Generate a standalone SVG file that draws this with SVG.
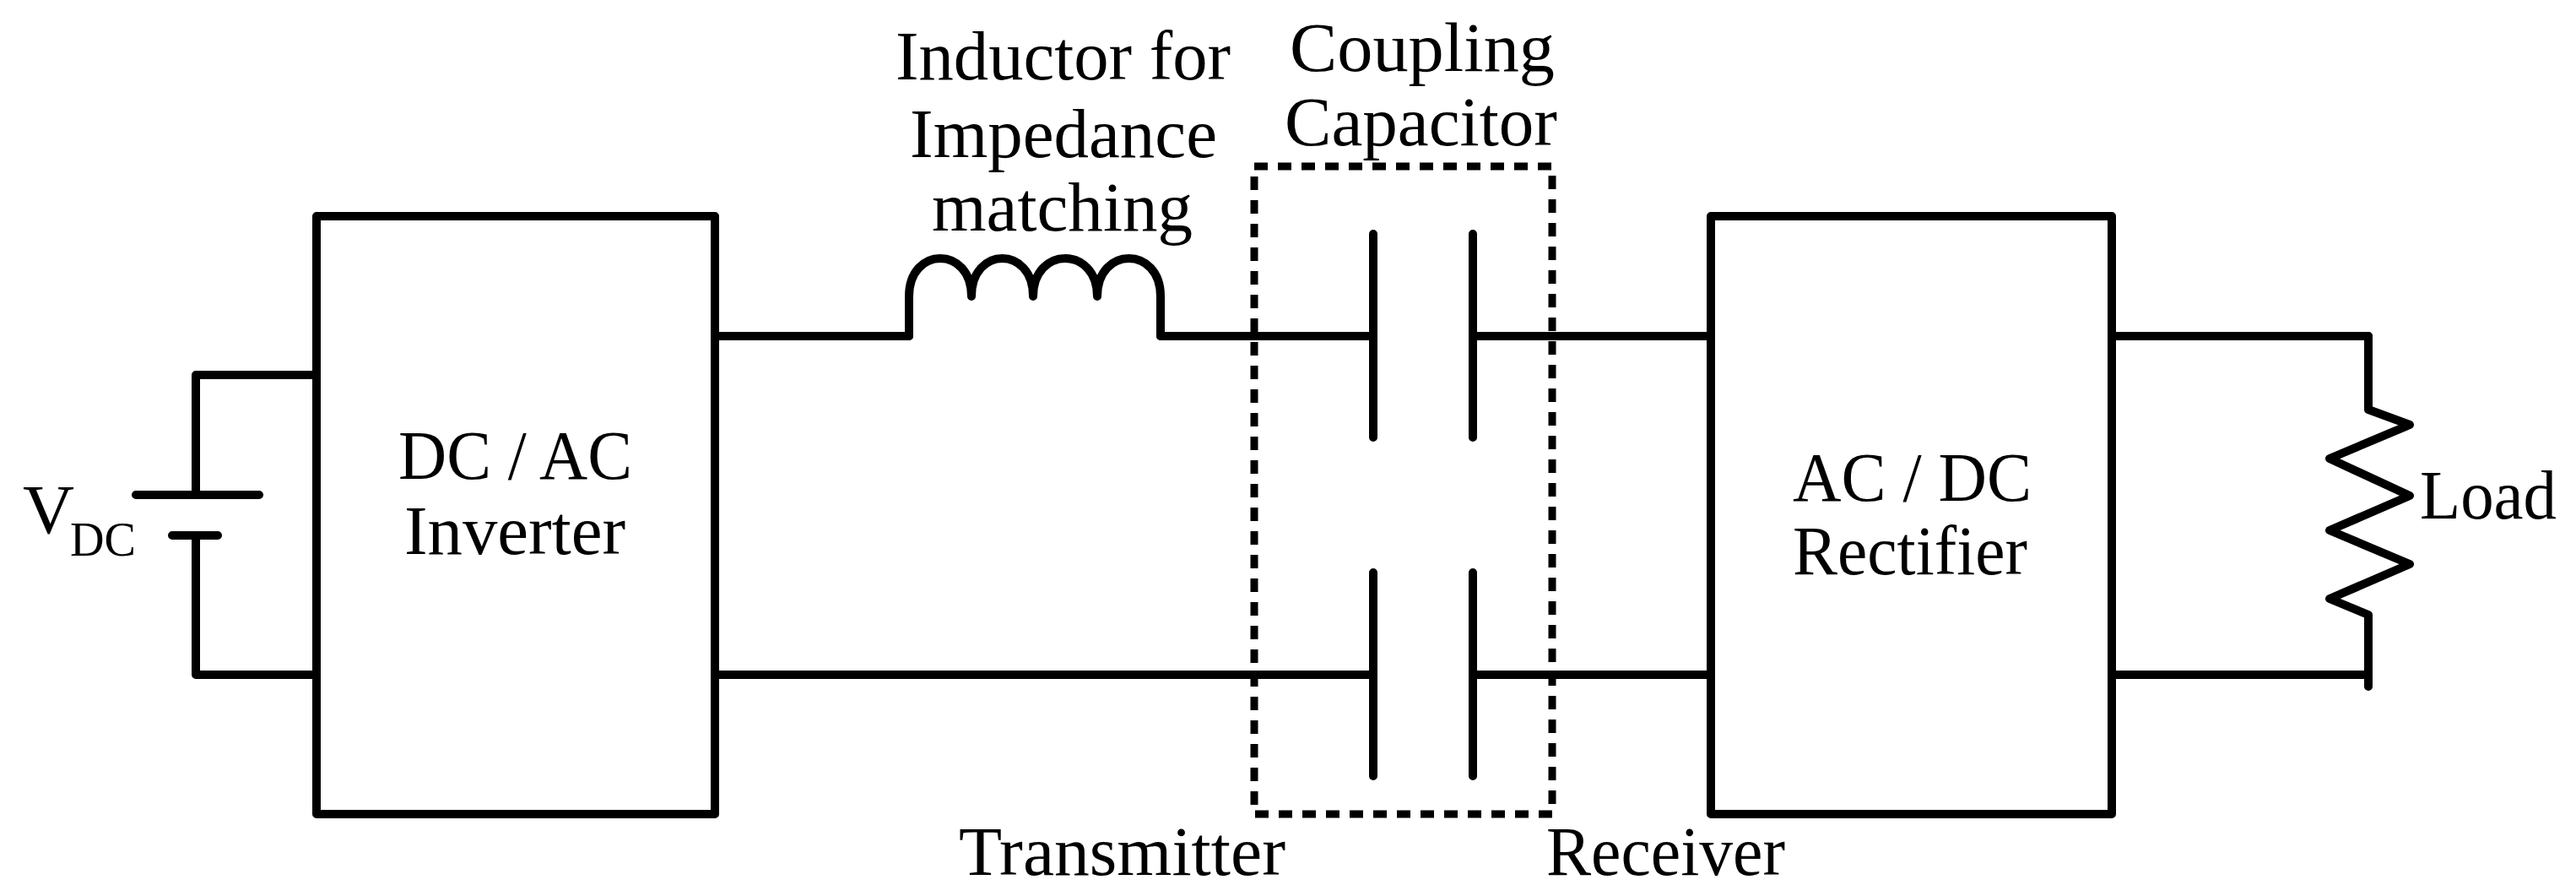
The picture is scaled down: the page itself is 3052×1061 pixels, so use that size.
<svg xmlns="http://www.w3.org/2000/svg" width="3052" height="1061" viewBox="0 0 3052 1061">
<style>
.w{fill:none;stroke:#000;stroke-width:10;stroke-linecap:round;stroke-linejoin:round}
.d{fill:none;stroke:#000;stroke-width:9;stroke-dasharray:16 12}
text{font-family:"Liberation Serif","DejaVu Serif",serif;font-size:82px;fill:#000}
</style>
<rect width="3052" height="1061" fill="#fff"/>
<g id="battery">
<path class="w" d="M375,444 H232 V586 M161,586 H307 M204,634 H258 M232,634 V799 H375"/>
<text x="27" y="631" textLength="61" lengthAdjust="spacingAndGlyphs">V</text>
<text x="83" y="658" style="font-size:58px" textLength="78" lengthAdjust="spacingAndGlyphs">DC</text>
</g>
<g id="inverter">
<rect class="w" x="375" y="256" width="472" height="708"/>
<text x="472" y="567" textLength="277" lengthAdjust="spacingAndGlyphs">DC / AC</text>
<text x="479" y="656" textLength="262" lengthAdjust="spacingAndGlyphs">Inverter</text>
</g>
<g id="inductor">
<path class="w" d="M1077,398 V351 C1077,291 1151,291 1151,351 C1151,291 1224,291 1224,351 C1224,291 1300,291 1300,351 C1300,291 1375,291 1375,351 V398"/>
<text x="1061" y="94" textLength="397" lengthAdjust="spacingAndGlyphs">Inductor for</text>
<text x="1078" y="186" textLength="364" lengthAdjust="spacingAndGlyphs">Impedance</text>
<text x="1104" y="273" textLength="309" lengthAdjust="spacingAndGlyphs">matching</text>
</g>
<g id="coupling">
<rect class="d" x="1486" y="197" width="353" height="767"/>
<path class="w" d="M1627,277 V518 M1745,277 V518 M1627,678 V919 M1745,678 V919"/>
<text x="1528" y="84" textLength="314" lengthAdjust="spacingAndGlyphs">Coupling</text>
<text x="1522" y="172" textLength="323" lengthAdjust="spacingAndGlyphs">Capacitor</text>
</g>
<g id="rectifier">
<rect class="w" x="2027" y="256" width="475" height="708"/>
<text x="2124" y="593" textLength="283" lengthAdjust="spacingAndGlyphs">AC / DC</text>
<text x="2124" y="680" textLength="278" lengthAdjust="spacingAndGlyphs">Rectifier</text>
</g>
<g id="load">
<path class="w" d="M2806,398 V485 L2855,503 L2760,543 L2855,587 L2760,628 L2855,668 L2760,709 L2806,728 V813"/>
<text x="2867" y="614" textLength="162" lengthAdjust="spacingAndGlyphs">Load</text>
</g>
<g id="connectors">
<path class="w" d="M847,398 H1077 M1375,398 H1627 M1745,398 H2027 M847,799 H1627 M1745,799 H2027 M2502,398 H2806 M2502,799 H2806"/>
</g>
<text x="1136" y="1036" textLength="387" lengthAdjust="spacingAndGlyphs">Transmitter</text>
<text x="1832" y="1036" textLength="283" lengthAdjust="spacingAndGlyphs">Receiver</text>
</svg>
